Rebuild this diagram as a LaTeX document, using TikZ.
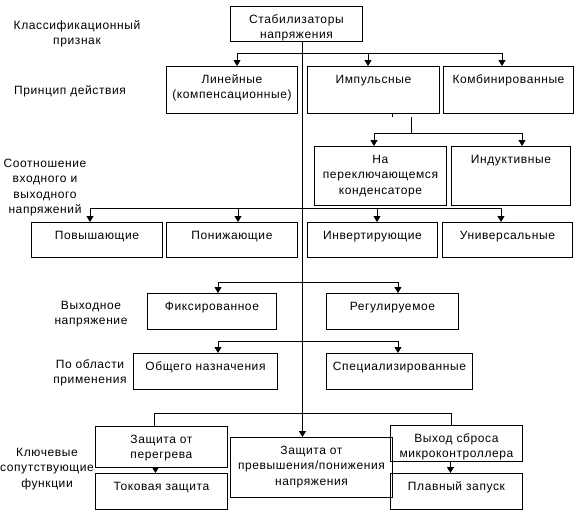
\documentclass[tikz,border=0pt]{standalone}
\usepackage{fontspec}
\setmainfont{Liberation Sans}[LetterSpace=5]
\usetikzlibrary{arrows.meta}
\tikzset{
  box/.style={draw, line width=0.9pt, inner sep=0pt, anchor=north west},
  txt/.style={inner sep=0pt, anchor=north, align=center, font=\fontsize{12}{15.5}\selectfont},
  lbl/.style={inner sep=0pt, anchor=north, align=center, font=\fontsize{12}{15.5}\selectfont},
  ln/.style={line width=0.9pt},
  arr/.style={ln, -{Triangle[width=7pt,length=6pt]}},
}
\newcommand{\mkbox}[6]{%
  \node[box, minimum width=#4-#2, minimum height=#5-#3] (#1) at (#2,#3) {};
  \node[txt] (#1-t) at ([yshift=-7pt]#1.north) {\rule{0pt}{10pt}#6};}
\begin{document}
\begin{tikzpicture}[x=1pt,y=-1pt]
\fill[white] (0,0) rectangle (577,514);
\useasboundingbox (0,0) rectangle (577,514);

% side labels
\node[lbl] (l1) at (77,19) {\rule{0pt}{10pt}Классификационный\\признак};
\node[lbl] (l2) at (70,84) {\rule{0pt}{10pt}Принцип действия};
\node[lbl] (l3) at (45,157) {\rule{0pt}{10pt}Соотношение\\входного и\\выходного\\напряжений};
\node[lbl] (l4) at (91,299) {\rule{0pt}{10pt}Выходное\\напряжение};
\node[lbl] (l5) at (90,358) {\rule{0pt}{10pt}По области\\применения};
\node[lbl] (l6) at (47,446) {\rule{0pt}{10pt}Ключевые\\сопутствующие\\функции};

% boxes
\mkbox{root}{230}{6}{362}{41}{Стабилизаторы\\напряжения}
\mkbox{lin}{166}{66}{297}{113}{Линейные\\(компенсационные)}
\mkbox{imp}{307}{66}{439}{113}{Импульсные}
\mkbox{komb}{443}{66}{573}{113}{Комбинированные}
\mkbox{kond}{314}{146}{446}{205}{На\\переключающемся\\конденсаторе}
\mkbox{ind}{451}{146}{570}{205}{Индуктивные}
\mkbox{pov}{31}{222}{162}{257}{Повышающие}
\mkbox{pon}{166}{222}{297}{257}{Понижающие}
\mkbox{inv}{307}{222}{437}{257}{Инвертирующие}
\mkbox{uni}{442}{222}{572}{257}{Универсальные}
\mkbox{fix}{147}{293}{276}{329}{Фиксированное}
\mkbox{reg}{326}{293}{458}{329}{Регулируемое}
\mkbox{obsh}{133}{353}{277}{389}{Общего назначения}
\mkbox{spec}{326}{353}{472}{389}{Специализированные}
\mkbox{per}{95}{426}{227}{467}{Защита от\\перегрева}
\mkbox{tok}{95}{473}{227}{509}{Токовая защита}
\mkbox{mid}{230}{437}{392}{497}{Защита от\\превышения/понижения\\напряжения}
\mkbox{vyh}{390}{425}{522}{461}{Выход сброса\\микроконтроллера}
\mkbox{plav}{390}{473}{522}{509}{Плавный запуск}

% trunk
\draw[arr] ([xshift=6pt]root.south) -- ([xshift=-9pt]mid.north);

% row 1
\coordinate (r1a) at (237,53);
\coordinate (r1b) at (368,53);
\coordinate (r1c) at (502,53);
\draw[ln] (r1a) -- (r1c);
\draw[arr] (r1a) -- (r1a |- lin.north);
\draw[arr] (r1b) -- (r1b |- imp.north);
\draw[arr] (r1c) -- (r1c |- komb.north);

% row 2
\coordinate (i1) at (411,117);
\coordinate (tk) at (392,113);
\coordinate (r2a) at (374,133);
\coordinate (r2b) at (522,133);
\draw[ln] (tk) -- ++(0,4);
\draw[ln] (i1) -- (i1 |- r2a);
\draw[ln] (r2a) -- (r2b);
\draw[arr] (r2a) -- (r2a |- kond.north);
\draw[arr] (r2b) -- (r2b |- ind.north);

% row 3
\coordinate (r3a) at (90,208);
\coordinate (r3b) at (238,208);
\coordinate (r3c) at (377,208);
\coordinate (r3d) at (501,208);
\draw[ln] (r3a) -- (r3d);
\draw[arr] (r3a) -- (r3a |- pov.north);
\draw[arr] (r3b) -- (r3b |- pon.north);
\draw[arr] (r3c) -- (r3c |- inv.north);
\draw[arr] (r3d) -- (r3d |- uni.north);

% row 4
\coordinate (r4a) at (218,282);
\coordinate (r4b) at (398,282);
\draw[ln] (r4a) -- (r4b);
\draw[arr] (r4a) -- (r4a |- fix.north);
\draw[arr] (r4b) -- (r4b |- reg.north);

% row 5
\coordinate (r5a) at (218,341);
\coordinate (r5b) at (398,341);
\draw[ln] (r5a) -- (r5b);
\draw[arr] (r5a) -- (r5a |- obsh.north);
\draw[arr] (r5b) -- (r5b |- spec.north);

% row 6
\coordinate (r6a) at (154,413);
\coordinate (r6b) at (451,413);
\draw[ln] (r6a |- per.north) -- (r6a) -- (r6b) -- (r6b |- vyh.north);
\draw[arr] ([xshift=-6pt]per.south) -- ([xshift=-6pt]tok.north);
\draw[arr] ([xshift=-6pt]vyh.south) -- ([xshift=-6pt]plav.north);
\end{tikzpicture}
\end{document}
